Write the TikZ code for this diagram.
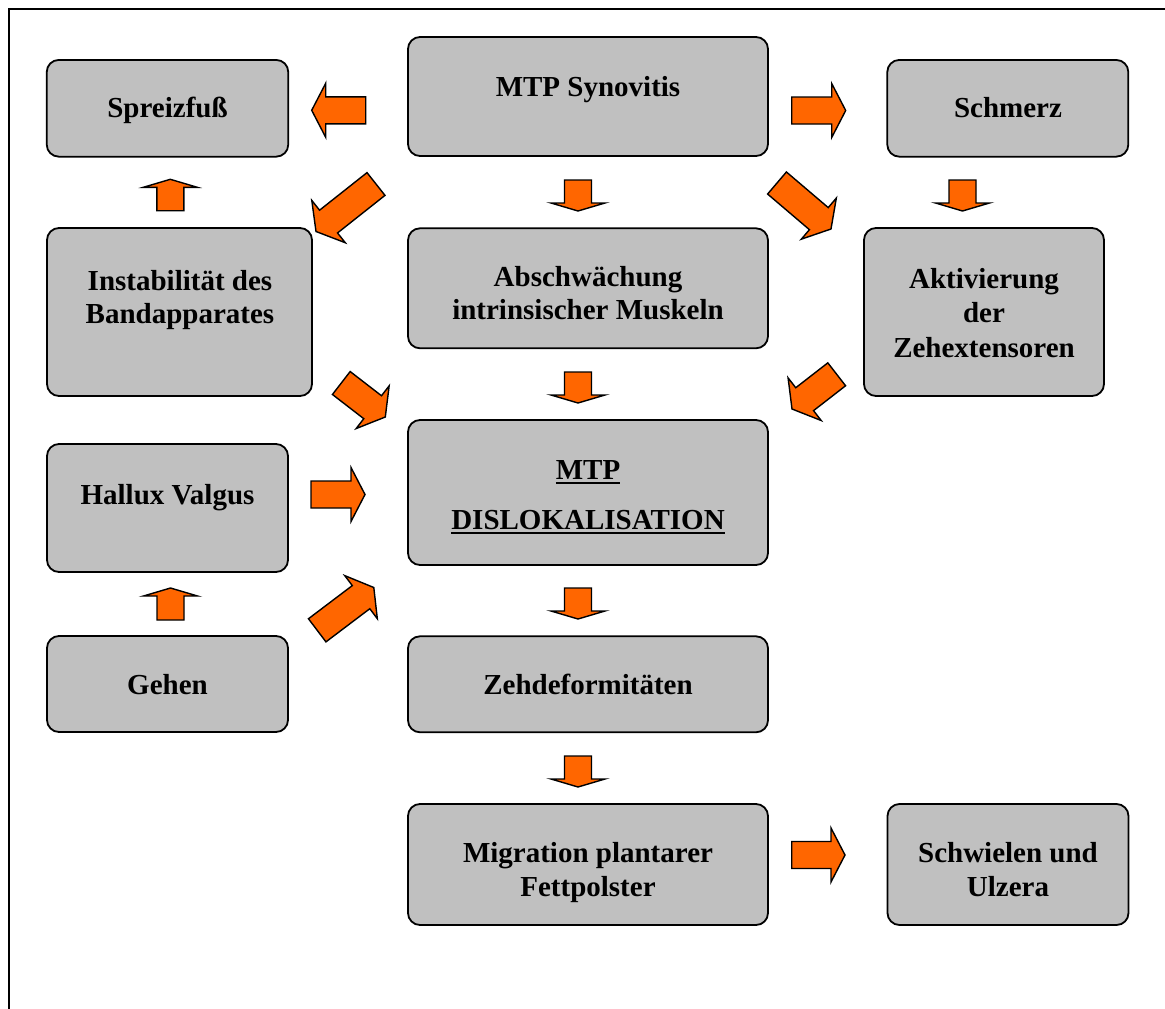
\documentclass[tikz,border=0pt]{standalone}
\usepackage{fontspec}
\setmainfont{Liberation Serif}
\usetikzlibrary{calc}
\definecolor{boxgray}{HTML}{C0C0C0}
\definecolor{arroworange}{HTML}{FF6600}
\newlength\shafthalf
\setlength\shafthalf{13.5pt}
% block arrow: [head length]{tail}{tip}
\newcommand\blockarrow[3][14pt]{%
  \coordinate (hb) at ($(#3)!#1!(#2)$);
  \draw[barrow] ($(#2)!\shafthalf!90:(#3)$) -- ($(hb)!\shafthalf!90:(#3)$) -- ($(hb)!27pt!90:(#3)$) -- (#3)
    -- ($(hb)!27pt!-90:(#3)$) -- ($(hb)!\shafthalf!-90:(#3)$) -- ($(#2)!\shafthalf!-90:(#3)$) -- cycle;}
\newcommand\ulin[1]{\setbox0\hbox{#1}\rlap{\rule[-5pt]{\wd0}{2.7pt}}\box0}
\begin{document}
\begin{tikzpicture}[x=1pt,y=-1pt,
  diabox/.style={draw=black, line width=1.8pt, fill=boxgray, rounded corners=12pt, inner sep=0pt},
  barrow/.style={draw=black, line width=1.4pt, fill=arroworange, line join=miter},
  lbl/.style={font=\bfseries\fontsize{29}{34}\selectfont, anchor=base, inner sep=0pt}]
\useasboundingbox (0,0) rectangle (1165,1009);
\draw[line width=2pt] (9.2,1009) -- (9.2,9.2) -- (1165,9.2);

% boxes
\node[diabox, minimum width=241.5pt, minimum height=96.7pt] (spreiz) at (167.5,108.3) {};
\node[diabox, minimum width=360pt, minimum height=119pt] (syno) at (588,96.5) {};
\node[diabox, minimum width=241pt, minimum height=96.7pt] (schmerz) at (1007.8,108.3) {};
\node[diabox, minimum width=265pt, minimum height=168pt] (instab) at (179.5,312) {};
\node[diabox, minimum width=360pt, minimum height=120pt] (absch) at (588,288.3) {};
\node[diabox, minimum width=240pt, minimum height=168pt] (aktiv) at (984,312) {};
\node[diabox, minimum width=360pt, minimum height=145pt] (dislok) at (588,492.5) {};
\node[diabox, minimum width=241pt, minimum height=128pt] (hallux) at (167.5,508) {};
\node[diabox, minimum width=241pt, minimum height=96pt] (gehen) at (167.5,684) {};
\node[diabox, minimum width=360pt, minimum height=96pt] (zehdef) at (588,684.3) {};
\node[diabox, minimum width=360pt, minimum height=121pt] (migr) at (588,864.5) {};
\node[diabox, minimum width=241pt, minimum height=121pt] (schwiel) at (1008,864.5) {};

% texts
\node[lbl] (t-spreiz) at (167.5,117.3) {Spreizfuß};
\node[lbl] (t-syno) at (588,96) {MTP Synovitis};
\node[lbl] (t-schmerz) at (1008,117.3) {Schmerz};
\node[lbl] (t-instab1) at (180,290) {Instabilität des};
\node[lbl] (t-instab2) at (180,323.5) {Bandapparates};
\node[lbl] (t-absch1) at (588,286) {Abschwächung};
\node[lbl] (t-absch2) at (588,319.5) {intrinsischer Muskeln};
\node[lbl] (t-aktiv1) at (984,288) {Aktivierung};
\node[lbl] (t-aktiv2) at (984,322.5) {der};
\node[lbl] (t-aktiv3) at (984,357) {Zehextensoren};
\node[lbl] (t-dislok1) at (588,479.3) {\ulin{MTP}};
\node[lbl] (t-dislok2) at (588,529.3) {\ulin{DISLOKALISATION}};
\node[lbl] (t-hallux) at (167.5,504) {Hallux Valgus};
\node[lbl] (t-gehen) at (167.5,694) {Gehen};
\node[lbl] (t-zehdef) at (588,694) {Zehdeformitäten};
\node[lbl] (t-migr1) at (588,862) {Migration plantarer};
\node[lbl] (t-migr2) at (588,896) {Fettpolster};
\node[lbl] (t-schwiel1) at (1008,862) {Schwielen und};
\node[lbl] (t-schwiel2) at (1008,896) {Ulzera};

% arrow end points
\coordinate (a1s) at (365.7,110.3);  \coordinate (a1e) at (311.7,110.3);
\coordinate (a2s) at (791.7,110.5);  \coordinate (a2e) at (845.7,110.5);
\coordinate (a3s) at (376,184);      \coordinate (a3e) at (316,231.5);
\coordinate (a4s) at (578,180);      \coordinate (a4e) at (578,211);
\coordinate (a5s) at (777,183);      \coordinate (a5e) at (831,229);
\coordinate (a6s) at (962.5,180);    \coordinate (a6e) at (962.5,211);
\coordinate (a7s) at (170.3,210.7);  \coordinate (a7e) at (170.3,179.3);
\coordinate (a8s) at (341.3,383);    \coordinate (a8e) at (385.3,417);
\coordinate (a9s) at (578,372);      \coordinate (a9e) at (578,403);
\coordinate (a10s) at (836.7,374.3); \coordinate (a10e) at (792,409);
\coordinate (a11s) at (311,494.5);   \coordinate (a11e) at (365,494.5);
\coordinate (a12s) at (170.5,620);   \coordinate (a12e) at (170.5,588);
\coordinate (a13s) at (317.2,630.3); \coordinate (a13e) at (373.8,587.5);
\coordinate (a14s) at (578,588);     \coordinate (a14e) at (578,619);
\coordinate (a15s) at (578,756);     \coordinate (a15e) at (578,787);
\coordinate (a16s) at (791.7,855);   \coordinate (a16e) at (845,855);

% straight arrows
\blockarrow{a1s}{a1e}
\blockarrow{a2s}{a2e}
\blockarrow[8pt]{a4s}{a4e}
\blockarrow[8pt]{a6s}{a6e}
\blockarrow[8pt]{a7s}{a7e}
\blockarrow[8pt]{a9s}{a9e}
\blockarrow{a11s}{a11e}
\blockarrow[8pt]{a12s}{a12e}
\blockarrow[8pt]{a14s}{a14e}
\blockarrow[8pt]{a15s}{a15e}
\blockarrow{a16s}{a16e}
% diagonal arrows (slightly wider shaft)
\setlength\shafthalf{14.5pt}
\blockarrow[16pt]{a3s}{a3e}
\blockarrow[16pt]{a5s}{a5e}
\blockarrow[16pt]{a8s}{a8e}
\blockarrow[16pt]{a10s}{a10e}
\blockarrow[16pt]{a13s}{a13e}
\end{tikzpicture}
\end{document}
